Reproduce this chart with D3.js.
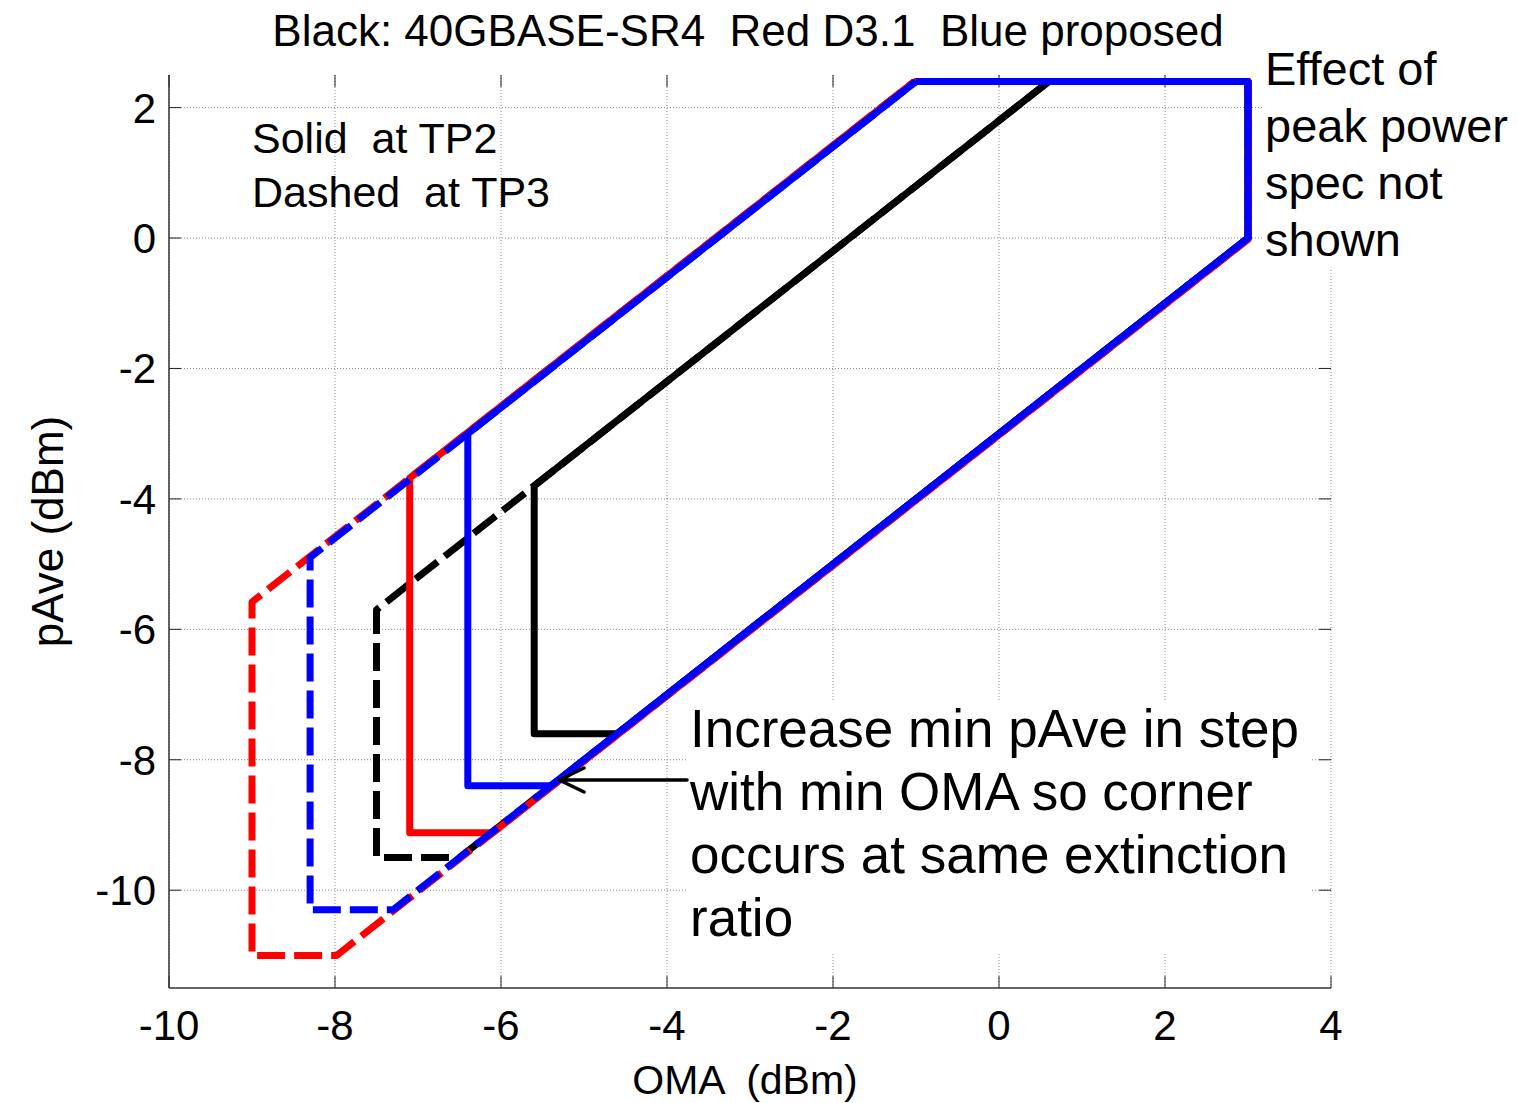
<!DOCTYPE html>
<html>
<head>
<meta charset="utf-8">
<script src="https://cdn.jsdelivr.net/npm/d3@7"></script>
<style>
  html, body { margin: 0; padding: 0; background: #fff; }
  svg text { font-family: "Liberation Sans", Arial, sans-serif; white-space: pre; }
</style>
</head>
<body>
<div id="chart"></div>
<script>
// tick values
const xTicks = [-10, -8, -6, -4, -2, 0, 2, 4];
const yTicks = [-10, -8, -6, -4, -2, 0, 2];

// polygons [OMA, pAve]
const blackDashed = [[0.6, 2.4], [3, 2.4], [3, 0], [-6.5, -9.5], [-7.5, -9.5], [-7.5, -5.7], [0.6, 2.4]];
const blackSolid  = [[0.6, 2.4], [3, 2.4], [3, 0], [-4.6, -7.6], [-5.6, -7.6], [-5.6, -3.8], [0.6, 2.4]];
const redDashed   = [[-1.02, 2.4], [3, 2.4], [3, -0.02], [-7.98, -11], [-9, -11], [-9, -5.58], [-1.02, 2.4]];
const redSolid    = [[-1.02, 2.4], [3, 2.4], [3, -0.02], [-6.1, -9.12], [-7.1, -9.12], [-7.1, -3.68], [-1.02, 2.4]];
const blueDashed  = [[-1, 2.4], [3, 2.4], [3, 0], [-7.3, -10.3], [-8.3, -10.3], [-8.3, -4.9], [-1, 2.4]];
const blueSolid   = [[-1, 2.4], [3, 2.4], [3, 0], [-5.4, -8.4], [-6.4, -8.4], [-6.4, -3.0], [-1, 2.4]];

const seriesList = [
  { pts: blackDashed, color: "#000", dashed: true },
  { pts: blackSolid,  color: "#000", dashed: false },
  { pts: redDashed,   color: "#ff0000", dashed: true },
  { pts: redSolid,    color: "#ff0000", dashed: false },
  { pts: blueDashed,  color: "#0000ff", dashed: true },
  { pts: blueSolid,   color: "#0000ff", dashed: false }
];

const titleText = "Black: 40GBASE-SR4  Red D3.1  Blue proposed";
const styleNote = ["Solid  at TP2", "Dashed  at TP3"];
const peakNote = ["Effect of", "peak power", "spec not", "shown"];
const stepNote = ["Increase min pAve in step", "with min OMA so corner", "occurs at same extinction", "ratio"];

const W = 1518, H = 1103;
const margin = { top: 75, right: 187, bottom: 115, left: 169 },
      width = W - margin.left - margin.right,
      height = H - margin.top - margin.bottom;

const svg = d3.select("#chart").append("svg")
  .attr("width", W)
  .attr("height", H);

const g = svg.append("g")
  .attr("transform", `translate(${margin.left}, ${margin.top})`);

const x = d3.scaleLinear().domain([-10, 4]).range([0, width]);
const y = d3.scaleLinear().domain([-11.5, 2.5]).range([height, 0]);

// grid
g.selectAll(".vgrid").data(xTicks).enter().append("line")
  .attr("x1", d => x(d)).attr("x2", d => x(d))
  .attr("y1", 0).attr("y2", height)
  .attr("stroke", "#8a8a8a").attr("stroke-width", 1)
  .attr("stroke-dasharray", "1,2");

g.selectAll(".hgrid").data(yTicks).enter().append("line")
  .attr("x1", 0).attr("x2", width)
  .attr("y1", d => y(d)).attr("y2", d => y(d))
  .attr("stroke", "#8a8a8a").attr("stroke-width", 1)
  .attr("stroke-dasharray", "1,2");

// inward ticks on all four sides
const tl = 12;
const ticks = g.append("g").attr("stroke", "#222").attr("stroke-width", 1);
xTicks.forEach(v => {
  ticks.append("line").attr("x1", x(v)).attr("x2", x(v)).attr("y1", height).attr("y2", height - tl);
  ticks.append("line").attr("x1", x(v)).attr("x2", x(v)).attr("y1", 0).attr("y2", tl);
});
yTicks.forEach(v => {
  ticks.append("line").attr("x1", 0).attr("x2", tl).attr("y1", y(v)).attr("y2", y(v));
  ticks.append("line").attr("x1", width).attr("x2", width - tl).attr("y1", y(v)).attr("y2", y(v));
});

// axis lines (left + bottom only)
g.append("line").attr("x1", 0).attr("x2", 0).attr("y1", 0).attr("y2", height)
  .attr("stroke", "#333").attr("stroke-width", 1.5);
g.append("line").attr("x1", 0).attr("x2", width).attr("y1", height).attr("y2", height)
  .attr("stroke", "#333").attr("stroke-width", 1.5);

// white boxes behind the annotations
svg.append("rect").attr("x", 1263).attr("y", 40).attr("width", 255).attr("height", 230).attr("fill", "#fff");
svg.append("rect").attr("x", 687).attr("y", 700).attr("width", 624).attr("height", 252).attr("fill", "#fff");

const line = d3.line().x(d => x(d[0])).y(d => y(d[1]));

g.selectAll(".series").data(seriesList).enter().append("path")
  .attr("class", "series")
  .attr("d", d => line(d.pts))
  .attr("fill", "none")
  .attr("stroke", d => d.color)
  .attr("stroke-width", 7)
  .attr("stroke-linejoin", "round")
  .attr("stroke-dasharray", d => d.dashed ? "28,9" : null);

// tick labels
g.selectAll(".xlab").data(xTicks).enter().append("text")
  .attr("x", d => x(d)).attr("y", height + 52)
  .attr("text-anchor", "middle")
  .attr("font-size", 42)
  .text(d => d);

g.selectAll(".ylab").data(yTicks).enter().append("text")
  .attr("x", -13).attr("y", d => y(d) + 15)
  .attr("text-anchor", "end")
  .attr("font-size", 42)
  .text(d => d);

// axis titles
svg.append("text")
  .attr("x", margin.left + width / 2 - 5).attr("y", 1094)
  .attr("text-anchor", "middle").attr("font-size", 41)
  .text("OMA  (dBm)");

svg.append("text")
  .attr("transform", `translate(63, ${margin.top + height / 2}) rotate(-90)`)
  .attr("text-anchor", "middle").attr("font-size", 44)
  .text("pAve (dBm)");

svg.append("text")
  .attr("x", 748).attr("y", 46)
  .attr("text-anchor", "middle").attr("font-size", 44)
  .text(titleText);

// annotations
svg.selectAll(".styleNote").data(styleNote).enter().append("text")
  .attr("x", 252).attr("y", (d, i) => 153 + i * 54)
  .attr("font-size", 43)
  .text(d => d);

svg.selectAll(".peakNote").data(peakNote).enter().append("text")
  .attr("x", 1265).attr("y", (d, i) => 85 + i * 57)
  .attr("font-size", 47)
  .text(d => d);

svg.selectAll(".stepNote").data(stepNote).enter().append("text")
  .attr("x", 690).attr("y", (d, i) => 747 + i * 63)
  .attr("font-size", 53)
  .text(d => d);

// arrow pointing at the blue corner
const tip = [x(-5.3) + margin.left, 780];
svg.append("path")
  .attr("d", `M687,780 L${tip[0]},${tip[1]} M${tip[0] + 25},${tip[1] - 12} L${tip[0]},${tip[1]} L${tip[0] + 25},${tip[1] + 12}`)
  .attr("fill", "none").attr("stroke", "#000").attr("stroke-width", 3.5)
  .attr("stroke-linecap", "round").attr("stroke-linejoin", "round");
</script>
</body>
</html>
